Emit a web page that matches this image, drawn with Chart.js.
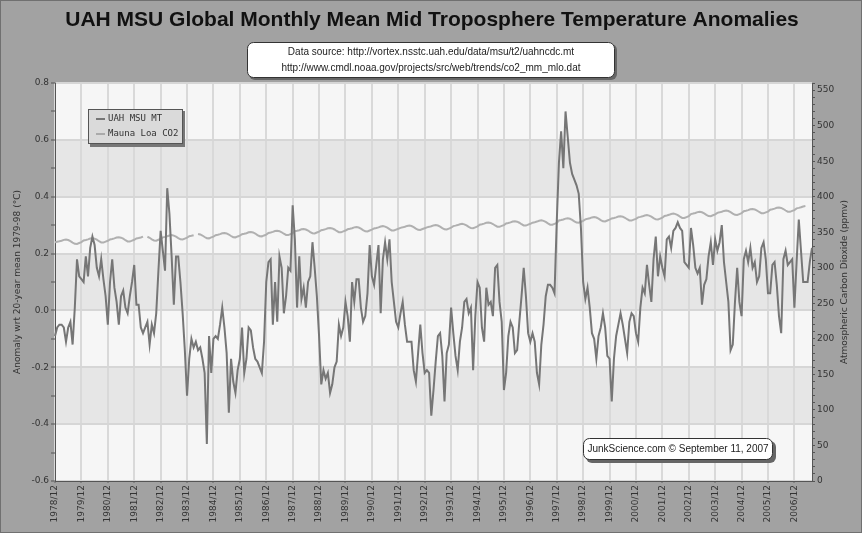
<!DOCTYPE html>
<html>
<head>
<meta charset="utf-8">
<script src="https://cdn.jsdelivr.net/npm/chart.js@4/dist/chart.umd.min.js"></script>
<style>
  body { margin: 0; background: #a2a2a2; }
  canvas { display: block; }
</style>
</head>
<body>
<canvas id="temp-chart" width="862" height="533"></canvas>
<script>
var chartTitle = "UAH MSU Global Monthly Mean Mid Troposphere Temperature Anomalies"
var sourceLines = [
      "Data source: http://vortex.nsstc.uah.edu/data/msu/t2/uahncdc.mt",
      "http://www.cmdl.noaa.gov/projects/src/web/trends/co2_mm_mlo.dat"
]
var creditText = "JunkScience.com \u00a9 September 11, 2007"
var leftAxisTitle = "Anomaly wrt 20-year mean 1979-98 (\u00b0C)"
var rightAxisTitle = "Atmospheric Carbon Dioxide (ppmv)"
var seriesNames = ["UAH MSU MT", "Mauna Loa CO2"]

// months run from 1978/12 to 2007/08
var firstYear = 1978, firstMonth = 12, numMonths = 345
var monthLabels = []
for (var i = 0; i < numMonths; i++) {
      var mm = (firstMonth - 1 + i) % 12 + 1
      var yy = firstYear + Math.floor((firstMonth - 1 + i) / 12)
      monthLabels.push(yy + "/" + (mm < 10 ? "0" + mm : mm))
}

// UAH MSU mid troposphere anomaly (°C)
var uahMT = [
      -0.09, -0.06, -0.05, -0.05, -0.06, -0.11, -0.06, -0.04, -0.12, 0.01,
      0.18, 0.12, 0.11, 0.10, 0.19, 0.12, 0.22, 0.26, 0.23, 0.15,
      0.12, 0.18, 0.11, 0.05, -0.05, 0.10, 0.18, 0.08, 0.03, -0.05,
      0.05, 0.07, 0.01, -0.01, 0.05, 0.10, 0.16, 0.02, 0.02, -0.06,
      -0.08, -0.06, -0.04, -0.12, -0.05, -0.08, -0.01, 0.14, 0.28, 0.21,
      0.14, 0.43, 0.34, 0.19, 0.02, 0.19, 0.19, 0.10, -0.01, -0.14,
      -0.30, -0.17, -0.10, -0.13, -0.11, -0.14, -0.13, -0.17, -0.22, -0.47,
      -0.09, -0.22, -0.10, -0.09, -0.10, -0.05, 0.01, -0.06, -0.15, -0.36,
      -0.17, -0.25, -0.29, -0.21, -0.17, -0.06, -0.22, -0.17, -0.06, -0.07,
      -0.13, -0.17, -0.18, -0.20, -0.22, -0.11, 0.10, 0.17, 0.18, -0.05,
      0.10, -0.04, 0.19, 0.15, -0.01, 0.05, 0.15, 0.14, 0.37, 0.25,
      0.01, 0.19, 0.04, 0.08, 0.01, 0.10, 0.12, 0.24, 0.15, 0.05,
      -0.09, -0.26, -0.21, -0.24, -0.22, -0.29, -0.26, -0.20, -0.18, -0.05,
      -0.09, -0.06, 0.03, -0.02, -0.11, 0.10, 0.03, 0.11, 0.11, 0.01,
      -0.04, -0.02, 0.06, 0.23, 0.12, 0.09, 0.16, 0.23, -0.01, 0.18,
      0.24, 0.18, 0.25, 0.10, 0.03, -0.04, -0.06, -0.01, 0.03, -0.05,
      -0.11, -0.11, -0.11, -0.21, -0.25, -0.15, -0.05, -0.15, -0.22, -0.21,
      -0.22, -0.37, -0.28, -0.18, -0.09, -0.08, -0.16, -0.32, -0.15, -0.12,
      0.01, -0.08, -0.16, -0.21, -0.11, -0.06, 0.03, 0.04, -0.01, 0.01,
      -0.21, -0.02, 0.10, 0.08, -0.06, -0.11, 0.08, 0.02, 0.03, -0.02,
      0.15, 0.16, 0.03, -0.04, -0.28, -0.22, -0.09, -0.04, -0.06, -0.15,
      -0.14, -0.04, 0.05, 0.15, 0.05, -0.08, -0.11, -0.08, -0.11, -0.22,
      -0.26, -0.12, -0.05, 0.05, 0.09, 0.09, 0.08, 0.06, 0.31, 0.52,
      0.63, 0.50, 0.70, 0.61, 0.52, 0.48, 0.46, 0.44, 0.41, 0.29,
      0.10, 0.04, 0.08, 0.01, -0.08, -0.10, -0.17, -0.09, -0.06, -0.01,
      -0.06, -0.16, -0.17, -0.32, -0.17, -0.09, -0.05, -0.01, -0.05, -0.10,
      -0.15, -0.04, -0.01, -0.02, -0.08, -0.11, 0.01, 0.08, 0.06, 0.16,
      0.09, 0.03, 0.18, 0.26, 0.12, 0.19, 0.15, 0.12, 0.25, 0.26,
      0.22, 0.28, 0.29, 0.31, 0.29, 0.28, 0.17, 0.16, 0.15, 0.29,
      0.23, 0.15, 0.13, 0.15, 0.02, 0.09, 0.11, 0.19, 0.24, 0.16,
      0.25, 0.21, 0.24, 0.30, 0.17, 0.10, 0.03, -0.14, -0.12, 0.03,
      0.15, 0.03, -0.02, 0.18, 0.21, 0.17, 0.22, 0.15, 0.17, 0.10,
      0.12, 0.22, 0.24, 0.18, 0.06, 0.06, 0.16, 0.17, 0.09, -0.02,
      -0.08, 0.18, 0.21, 0.16, 0.17, 0.18, 0.01, 0.17, 0.32, 0.21,
      0.10, 0.10, 0.10, 0.17, 0.22
]

// Mauna Loa CO2 (ppmv), 1978/12 then one row per year, gaps left as null
var co2 = [
      335.9,
      336.6, 337.3, 338.1, 339.3, 339.8, 339.1, 337.6, 335.5, 333.8, 333.6, 334.9, 336.1,
      338.5, 339.2, 340.0, 341.2, 341.7, 341.0, 339.5, 337.4, 335.7, 335.5, 336.8, 338.0,
      339.9, 340.6, 341.4, 342.6, 343.1, 342.4, 340.9, 338.8, 337.1, 336.9, 338.2, 339.4,
      341.2, 341.9, 342.7, 343.9, null, 343.7, 342.2, 340.1, 338.4, 338.2, 339.5, 340.7,
      342.8, 343.5, 344.3, 345.5, 346.0, 345.3, 343.8, 341.7, 340.0, 339.8, 341.1, 342.3,
      344.4, 345.1, 345.9, null, 347.6, 346.9, 345.4, 343.3, 341.6, 341.4, 342.7, 343.9,
      345.8, 346.5, 347.3, 348.5, 349.0, 348.3, 346.8, 344.7, 343.0, 342.8, 344.1, 345.3,
      347.2, 347.9, 348.7, 349.9, 350.4, 349.7, 348.2, 346.1, 344.4, 344.2, 345.5, 346.7,
      349.0, 349.7, 350.5, 351.7, 352.2, 351.5, 350.0, 347.9, 346.2, 346.0, 347.3, 348.5,
      351.4, 352.1, 352.9, 354.1, 354.6, 353.9, 352.4, 350.3, 348.6, 348.4, 349.7, 350.9,
      352.9, 353.6, 354.4, 355.6, 356.1, 355.4, 353.9, 351.8, 350.1, 349.9, 351.2, 352.4,
      354.2, 354.9, 355.7, 356.9, 357.4, 356.7, 355.2, 353.1, 351.4, 351.2, 352.5, 353.7,
      355.4, 356.1, 356.9, 358.1, 358.6, 357.9, 356.4, 354.3, 352.6, 352.4, 353.7, 354.9,
      356.2, 356.9, 357.7, 358.9, 359.4, 358.7, 357.2, 355.1, 353.4, 353.2, 354.5, 355.7,
      356.9, 357.6, 358.4, 359.6, 360.1, 359.4, 357.9, 355.8, 354.1, 353.9, 355.2, 356.4,
      358.6, 359.3, 360.1, 361.3, 361.8, 361.1, 359.6, 357.5, 355.8, 355.6, 356.9, 358.1,
      360.6, 361.3, 362.1, 363.3, 363.8, 363.1, 361.6, 359.5, 357.8, 357.6, 358.9, 360.1,
      362.4, 363.1, 363.9, 365.1, 365.6, 364.9, 363.4, 361.3, 359.6, 359.4, 360.7, 361.9,
      363.5, 364.2, 365.0, 366.2, 366.7, 366.0, 364.5, 362.4, 360.7, 360.5, 361.8, 363.0,
      366.5, 367.2, 368.0, 369.2, 369.7, 369.0, 367.5, 365.4, 363.7, 363.5, 364.8, 366.0,
      368.2, 368.9, 369.7, 370.9, 371.4, 370.7, 369.2, 367.1, 365.4, 365.2, 366.5, 367.7,
      369.4, 370.1, 370.9, 372.1, 372.6, 371.9, 370.4, 368.3, 366.6, 366.4, 367.7, 368.9,
      370.9, 371.6, 372.4, 373.6, 374.1, 373.4, 371.9, 369.8, 368.1, 367.9, 369.2, 370.4,
      373.0, 373.7, 374.5, 375.7, 376.2, 375.5, 374.0, 371.9, 370.2, 370.0, 371.3, 372.5,
      375.6, 376.3, 377.1, 378.3, 378.8, 378.1, 376.6, 374.5, 372.8, 372.6, 373.9, 375.1,
      377.3, 378.0, 378.8, 380.0, 380.5, 379.8, 378.3, 376.2, 374.5, 374.3, 375.6, 376.8,
      379.6, 380.3, 381.1, 382.3, 382.8, 382.1, 380.6, 378.5, 376.8, 376.6, 377.9, 379.1,
      381.7, 382.4, 383.2, 384.4, 384.9, 384.2, 382.7, 380.6, 378.9, 378.7, 380.0, 381.2,
      383.6, 384.3, 385.1, 386.3, 386.8
]

var tempBands = [[0.4, 0.6], [0.0, 0.2], [-0.4, -0.2]]

function isYearTick(index) {
      return monthLabels[index] && monthLabels[index].slice(-3) == "/12"
}
function isMajorTemp(v) {
      return Math.abs(Math.round(v * 10)) % 2 == 0
}

var decorPlugin = {
      id: 'decor',
      beforeDraw: function(chart) {
            var ctx = chart.ctx, a = chart.chartArea, ys = chart.scales.y
            ctx.save()
            ctx.fillStyle = '#a2a2a2'
            ctx.fillRect(0, 0, chart.width, chart.height)
            ctx.fillStyle = '#f6f6f6'
            ctx.fillRect(a.left, a.top, a.right - a.left, a.bottom - a.top)
            ctx.fillStyle = '#e6e6e6'
            tempBands.forEach(function(b) {
                  var top = ys.getPixelForValue(b[1]), bottom = ys.getPixelForValue(b[0])
                  ctx.fillRect(a.left, top, a.right - a.left, bottom - top)
            })
            ctx.restore()
      },
      afterDraw: function(chart) {
            var ctx = chart.ctx, a = chart.chartArea
            var midY = (a.top + a.bottom) / 2
            ctx.save()
            // title
            ctx.fillStyle = '#111'
            ctx.font = 'bold 21px "Liberation Sans", Arial, sans-serif'
            ctx.textAlign = 'center'
            ctx.textBaseline = 'middle'
            ctx.fillText(chartTitle, 432, 20)

            // data source box
            ctx.fillStyle = '#666'
            ctx.beginPath(); ctx.roundRect(249, 44, 368, 36, 6); ctx.fill()
            ctx.fillStyle = '#fff'
            ctx.strokeStyle = '#333'
            ctx.lineWidth = 1
            ctx.beginPath(); ctx.roundRect(247.5, 42.5, 367, 35, 6); ctx.fill(); ctx.stroke()
            ctx.fillStyle = '#222'
            ctx.font = '10px "Liberation Sans", Arial, sans-serif'
            ctx.fillText(sourceLines[0], 431, 52)
            ctx.fillText(sourceLines[1], 431, 68)

            // legend
            ctx.fillStyle = '#777'
            ctx.fillRect(90, 111, 95, 36)
            ctx.fillStyle = '#dadada'
            ctx.strokeStyle = '#555'
            ctx.fillRect(88, 109, 95, 35)
            ctx.strokeRect(88.5, 109.5, 94, 34)
            ctx.font = '9px "DejaVu Sans Mono", monospace'
            ctx.textAlign = 'left'
            var legendColors = ['#767676', '#aaaaaa']
            for (var k = 0; k < 2; k++) {
                  var ly = 119 + k * 15
                  ctx.strokeStyle = legendColors[k]
                  ctx.lineWidth = 2
                  ctx.beginPath(); ctx.moveTo(96, ly); ctx.lineTo(105, ly); ctx.stroke()
                  ctx.fillStyle = '#333'
                  ctx.fillText(seriesNames[k], 108, ly)
            }

            // credit box
            ctx.fillStyle = '#666'
            ctx.beginPath(); ctx.roundRect(586, 441, 190, 22, 6); ctx.fill()
            ctx.fillStyle = '#fff'
            ctx.strokeStyle = '#333'
            ctx.lineWidth = 1
            ctx.beginPath(); ctx.roundRect(583.5, 438.5, 189, 21, 6); ctx.fill(); ctx.stroke()
            ctx.fillStyle = '#222'
            ctx.font = '10px "Liberation Sans", Arial, sans-serif'
            ctx.textAlign = 'center'
            ctx.fillText(creditText, 678, 449)

            // axis titles
            ctx.font = '9px "DejaVu Sans", sans-serif'
            ctx.fillStyle = '#333'
            ctx.translate(18, midY)
            ctx.rotate(-Math.PI / 2)
            ctx.fillText(leftAxisTitle, 0, 0)
            ctx.setTransform(1, 0, 0, 1, 0, 0)
            ctx.translate(845, midY)
            ctx.rotate(-Math.PI / 2)
            ctx.fillText(rightAxisTitle, 0, 0)
            ctx.setTransform(1, 0, 0, 1, 0, 0)

            // outer frame
            ctx.strokeStyle = '#707070'
            ctx.strokeRect(0.5, 0.5, chart.width - 1, chart.height - 1)
            ctx.restore()
      }
}

Chart.defaults.font.family = '"DejaVu Sans", sans-serif'
Chart.defaults.font.size = 9
Chart.defaults.color = '#333'

var ctx = document.getElementById('temp-chart').getContext('2d')
var chart = new Chart(ctx, {
      type: 'line',
      data: {
            labels: monthLabels,
            datasets: [{
                  label: seriesNames[0],
                  data: uahMT,
                  yAxisID: 'y',
                  borderColor: '#767676',
                  borderWidth: 2,
                  pointRadius: 0,
                  tension: 0
            }, {
                  label: seriesNames[1],
                  data: co2,
                  yAxisID: 'y2',
                  borderColor: '#b0b0b0',
                  borderWidth: 2,
                  pointRadius: 0,
                  spanGaps: false,
                  tension: 0
            }]
      },
      options: {
            responsive: false,
            animation: false,
            layout: { padding: { top: 83, left: 0, right: 0, bottom: 0 } },
            plugins: {
                  legend: { display: false },
                  title: { display: false },
                  tooltip: { enabled: false }
            },
            scales: {
                  x: {
                        type: 'category',
                        offset: false,
                        border: { color: '#555' },
                        grid: {
                              color: function(c) { return isYearTick(c.index) ? '#d9d9d9' : 'rgba(0,0,0,0)' },
                              tickColor: function(c) { return isYearTick(c.index) ? '#666' : 'rgba(0,0,0,0)' },
                              lineWidth: 2,
                              tickWidth: 1,
                              tickLength: 2
                        },
                        ticks: {
                              autoSkip: false,
                              minRotation: 90,
                              maxRotation: 90,
                              padding: 2,
                              callback: function(v, i) { return isYearTick(i) ? monthLabels[i] : '' }
                        },
                        afterFit: function(s) { s.height = 52 }
                  },
                  y: {
                        position: 'left',
                        min: -0.6,
                        max: 0.8,
                        border: { color: '#555' },
                        grid: {
                              color: function(c) { return isMajorTemp(c.tick.value) ? '#d6d6d6' : 'rgba(0,0,0,0)' },
                              tickColor: '#555',
                              lineWidth: 2,
                              tickWidth: 1,
                              tickLength: 4
                        },
                        ticks: {
                              stepSize: 0.1,
                              autoSkip: false,
                              maxTicksLimit: 100,
                              padding: 2,
                              callback: function(v) { return isMajorTemp(v) ? (Math.round(v * 10) / 10).toFixed(1) : '' }
                        },
                        afterFit: function(s) { s.width = 55 }
                  },
                  y2: {
                        position: 'right',
                        min: 0,
                        max: 560,
                        border: { color: '#555' },
                        grid: {
                              drawOnChartArea: false,
                              tickColor: '#555',
                              tickLength: 3
                        },
                        ticks: {
                              stepSize: 10,
                              autoSkip: false,
                              maxTicksLimit: 100,
                              padding: 2,
                              callback: function(v) { return v % 50 == 0 ? v : '' }
                        },
                        afterFit: function(s) { s.width = 50 }
                  }
            }
      },
      plugins: [decorPlugin]
})
</script>
</body>
</html>
